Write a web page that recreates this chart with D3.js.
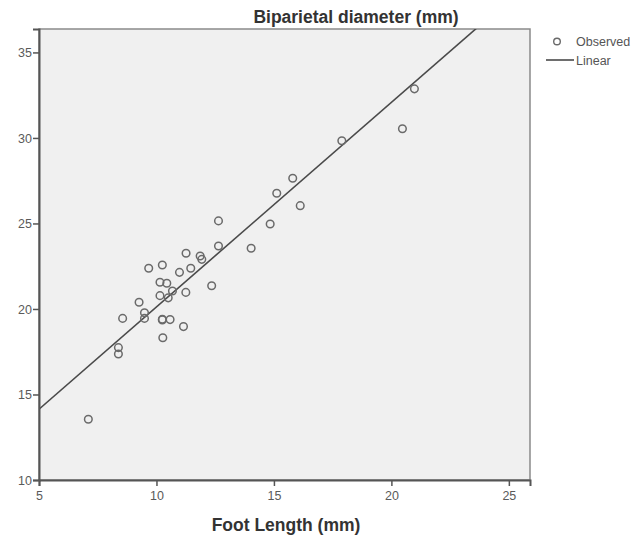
<!DOCTYPE html>
<html><head><meta charset="utf-8">
<script src="https://cdn.jsdelivr.net/npm/d3@7/dist/d3.min.js"></script>
<style>html,body{margin:0;padding:0;background:#fff;}svg{display:block;font-family:"Liberation Sans",Arial,sans-serif;}</style>
</head><body>
<script>
// Observed points: foot length (mm) and biparietal diameter (mm)
const footLength = [7.1, 8.38, 8.38, 8.56, 9.26, 9.49, 9.49, 9.67, 10.15, 10.25, 10.15, 10.25, 10.27, 10.25,
  10.44, 10.5, 10.58, 10.68, 10.98, 11.15, 11.26, 11.25, 11.46, 11.86, 11.93, 12.35, 12.64, 12.64,
  14.03, 14.84, 15.12, 15.8, 16.12, 17.89, 20.47, 20.98];
const biparietal = [13.55, 17.74, 17.37, 19.45, 20.39, 19.78, 19.45, 22.38, 21.56, 22.57, 20.78, 19.36, 18.32, 19.4,
  21.5, 20.65, 19.38, 21.05, 22.14, 18.97, 23.26, 20.97, 22.38, 23.1, 22.9, 21.36, 25.15, 23.68,
  23.55, 24.97, 26.77, 27.64, 26.04, 29.84, 30.54, 32.87];
// Linear fit: y = intercept + slope * x
const fitIntercept = 8.16;
const fitSlope = 1.196;
const xTicks = [5, 10, 15, 20, 25];
const yTicks = [10, 15, 20, 25, 30, 35];
const legendLabels = ["Observed", "Linear"];
const titleText = "Biparietal diameter (mm)";
const xTitle = "Foot Length (mm)";

const W = 636, H = 540;
const L = 39, R = 530, T = 29, B = 480;
const svg = d3.select("body").append("svg").attr("width", W).attr("height", H);

const x = d3.scaleLinear().domain([5, 25.9]).range([L, R]);
const y = d3.scaleLinear().domain([10, 36.37]).range([B, T]);

svg.append("rect").attr("x", L).attr("y", T).attr("width", R - L).attr("height", B - T)
  .attr("fill", "#f0f0f0").attr("stroke", "#8a8a8a").attr("stroke-width", 1.5);

svg.append("clipPath").attr("id", "c").append("rect")
  .attr("x", L).attr("y", T).attr("width", R - L).attr("height", B - T);

// regression line
const x0 = x.domain()[0], x1 = x.domain()[1];
svg.append("line").attr("clip-path", "url(#c)")
  .attr("x1", x(x0)).attr("y1", y(fitIntercept + fitSlope * x0))
  .attr("x2", x(x1)).attr("y2", y(fitIntercept + fitSlope * x1))
  .attr("stroke", "#4a4a4a").attr("stroke-width", 1.6);

// points
svg.append("g").selectAll("circle").data(footLength.map((v, i) => [v, biparietal[i]])).join("circle")
  .attr("cx", d => x(d[0])).attr("cy", d => y(d[1])).attr("r", 3.8)
  .attr("fill", "none").attr("stroke", "#6a6a6a").attr("stroke-width", 1.5);

// axes
const xAxis = svg.append("g").attr("transform", `translate(0,${B})`)
  .call(d3.axisBottom(x).tickValues(xTicks).tickSize(6).tickPadding(5).tickFormat(d3.format("d")));
const yAxis = svg.append("g").attr("transform", `translate(${L},0)`)
  .call(d3.axisLeft(y).tickValues(yTicks).tickSize(6).tickPadding(1).tickFormat(d3.format("d")));
[xAxis, yAxis].forEach(g => {
  g.select(".domain").attr("stroke", "#555").attr("stroke-width", 2);
  g.selectAll(".tick line").attr("stroke", "#555").attr("stroke-width", 1.5);
  g.selectAll(".tick text").attr("fill", "#5a5a5a").style("font-size", "12.5px")
    .style("font-family", "'Liberation Sans', Arial, sans-serif");
});
yAxis.selectAll(".tick text").attr("dy", "0.36em");

// titles
svg.append("text").attr("x", 356).attr("y", 23).attr("text-anchor", "middle")
  .attr("fill", "#333").style("font-size", "17.5px").style("font-weight", "bold").text(titleText);
svg.append("text").attr("x", 286).attr("y", 531).attr("text-anchor", "middle")
  .attr("fill", "#333").style("font-size", "17.5px").style("font-weight", "bold").text(xTitle);

// legend
const lg = svg.append("g");
lg.append("circle").attr("cx", 557).attr("cy", 41.5).attr("r", 3.3)
  .attr("fill", "none").attr("stroke", "#6a6a6a").attr("stroke-width", 1.4);
lg.append("text").attr("x", 576).attr("y", 46).attr("fill", "#555").style("font-size", "12.5px").text(legendLabels[0]);
lg.append("line").attr("x1", 546).attr("x2", 574).attr("y1", 60).attr("y2", 60)
  .attr("stroke", "#4a4a4a").attr("stroke-width", 1.6);
lg.append("text").attr("x", 576).attr("y", 64.5).attr("fill", "#555").style("font-size", "12.5px").text(legendLabels[1]);
</script>
</body></html>
